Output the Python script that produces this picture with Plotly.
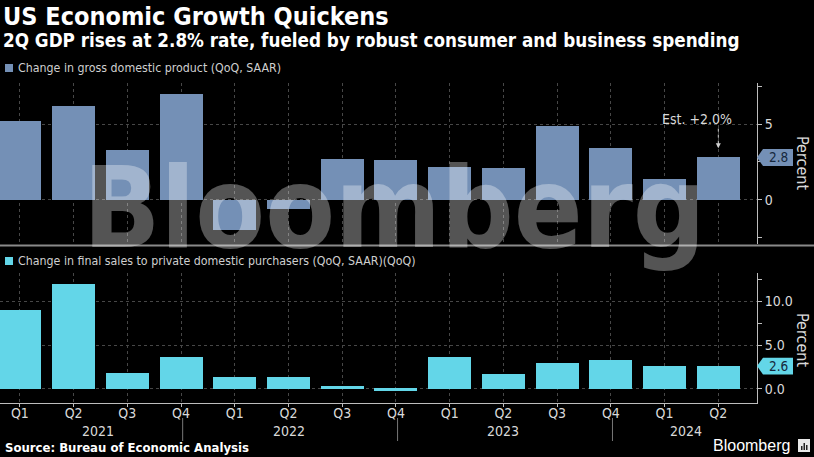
import plotly.graph_objects as go

# ---------------- data ----------------
quarters = ["Q1", "Q2", "Q3", "Q4", "Q1", "Q2", "Q3", "Q4", "Q1", "Q2", "Q3", "Q4", "Q1", "Q2"]
years = ["2021", "2022", "2023", "2024"]
year_pos = [1.45, 5.0, 9.0, 12.4]
year_breaks = [3.03, 7.03, 11.03]
gdp = [5.2, 6.2, 3.3, 7.0, -2.0, -0.6, 2.7, 2.6, 2.2, 2.1, 4.9, 3.4, 1.4, 2.8]
final_sales = [9.0, 11.9, 1.8, 3.6, 1.4, 1.4, 0.3, -0.2, 3.6, 1.7, 3.0, 3.3, 2.6, 2.6]
top_label = "Change in gross domestic product (QoQ, SAAR)"
bot_label = "Change in final sales to private domestic purchasers (QoQ, SAAR)(QoQ)"
est_text = "Est. +2.0%"
est_value = 2.0

x = list(range(len(quarters)))

# ---------------- layout helpers ----------------
PLOT_W = 757
PLOT_TOP = 83
PLOT_BOT = 403
PLOT_H = PLOT_BOT - PLOT_TOP


def px_x(px):
    return px / PLOT_W


def px_y(py):
    return (PLOT_BOT - py) / PLOT_H


BLUE = "#7490b6"
CYAN = "#63d6e8"
TXT = "#d9d9d9"
GRID = "#474747"
AXIS = "#bdbdbd"
NARROW = "Liberation Sans Narrow, DejaVu Sans Condensed, Arial Narrow, sans-serif"

fig = go.Figure()
fig.add_trace(go.Bar(x=x, y=gdp, marker_color=BLUE, marker_line_width=0, width=0.8,
                     xaxis="x", yaxis="y", showlegend=False))
fig.add_trace(go.Bar(x=x, y=final_sales, marker_color=CYAN, marker_line_width=0, width=0.8,
                     xaxis="x2", yaxis="y2", showlegend=False))

xr = [-0.37, 13.72]
top_range = [-2.9, 7.7]
bot_range = [-1.6, 13.2]

fig.update_layout(
    width=814, height=457,
    margin=dict(l=0, r=814 - PLOT_W, t=PLOT_TOP, b=457 - PLOT_BOT),
    paper_bgcolor="black", plot_bgcolor="black",
    font=dict(family=NARROW, color=TXT, size=13),
    xaxis=dict(domain=[0, 1], range=xr, anchor="y", tickvals=x, showticklabels=False,
               showgrid=True, griddash="dot", gridcolor=GRID, gridwidth=1,
               zeroline=False, showline=False, ticks=""),
    yaxis=dict(domain=[px_y(244), 1.0], range=top_range, side="right", anchor="x",
               tickvals=[0, 5], showgrid=True, griddash="dot", gridcolor=GRID,
               zeroline=False, showline=True, linecolor=AXIS, linewidth=1,
               ticks="outside", ticklen=4, tickcolor=AXIS,
               minor=dict(dtick=2.5, ticks="outside", ticklen=4, tickcolor=AXIS, showgrid=False),
               tickfont=dict(size=14, color=TXT, family=NARROW)),
    xaxis2=dict(domain=[0, 1], range=xr, anchor="y2", tickvals=x, ticktext=quarters,
                showgrid=True, griddash="dot", gridcolor=GRID, zeroline=False,
                showline=True, linecolor=AXIS, linewidth=1, ticks="outside", ticklen=3,
                tickcolor=AXIS, ticklabelstandoff=-6,
                tickfont=dict(size=14, color=TXT, family=NARROW)),
    yaxis2=dict(domain=[0, px_y(273)], range=bot_range, side="right", anchor="x2",
                tickvals=[0, 5, 10], tickformat=".1f", showgrid=True, griddash="dot",
                gridcolor=GRID, zeroline=False, showline=True, linecolor=AXIS, linewidth=1,
                ticks="outside", ticklen=4, tickcolor=AXIS,
                minor=dict(dtick=2.5, ticks="outside", ticklen=4, tickcolor=AXIS, showgrid=False),
                tickfont=dict(size=14, color=TXT, family=NARROW)),
    bargap=0,
)

shapes = []
annotations = []

# panel separator line
shapes.append(dict(type="line", xref="paper", yref="paper", x0=0, x1=814 / PLOT_W,
                   y0=px_y(245.5), y1=px_y(245.5), line=dict(color="#8a8a8a", width=2)))

# legend squares
shapes.append(dict(type="rect", xref="paper", yref="paper", x0=px_x(5), x1=px_x(13),
                   y0=px_y(72), y1=px_y(64), fillcolor=BLUE, line_width=0))
shapes.append(dict(type="rect", xref="paper", yref="paper", x0=px_x(5), x1=px_x(13),
                   y0=px_y(265), y1=px_y(257), fillcolor=CYAN, line_width=0))
annotations.append(dict(text=top_label, xref="paper", yref="paper", x=px_x(16), y=px_y(68),
                        xanchor="left", yanchor="middle", showarrow=False,
                        font=dict(size=12.3, color="#cfcfcf")))
annotations.append(dict(text=bot_label, xref="paper", yref="paper", x=px_x(16), y=px_y(261),
                        xanchor="left", yanchor="middle", showarrow=False,
                        font=dict(size=12.3, color="#cfcfcf")))

# year labels and separators
for yl, yp in zip(years, year_pos):
    annotations.append(dict(text=yl, xref="x2", yref="paper", x=yp, y=px_y(431),
                            xanchor="center", yanchor="middle", showarrow=False,
                            font=dict(size=14, color=TXT)))
for b in year_breaks:
    shapes.append(dict(type="line", xref="x2", yref="paper", x0=b, x1=b,
                       y0=px_y(418), y1=px_y(441), line=dict(color="#777", width=1)))


# value tags
def add_tag(val, yref, half_units, color):
    x0, x1, x2 = px_x(PLOT_W), px_x(PLOT_W + 6), px_x(PLOT_W + 36)
    path = (f"M {x0},{val} L {x1},{val + half_units} L {x2},{val + half_units} "
            f"L {x2},{val - half_units} L {x1},{val - half_units} Z")
    shapes.append(dict(type="path", xref="paper", yref=yref, path=path,
                       fillcolor=color, line_width=0))
    annotations.append(dict(text=f"{val:.1f}", xref="paper", yref=yref,
                            x=(x1 + x2) / 2, y=val, xanchor="center", yanchor="middle",
                            showarrow=False, font=dict(size=13.5, color="#16283d")))


add_tag(gdp[-1], "y", 8.5 / 15.2, BLUE)
add_tag(final_sales[-1], "y2", 8.5 / 8.9, CYAN)

# Percent titles
annotations.append(dict(text="Percent", xref="paper", yref="paper", x=px_x(803), y=px_y(163),
                        textangle=90, showarrow=False, xanchor="center", yanchor="middle",
                        font=dict(size=16, color=TXT)))
annotations.append(dict(text="Percent", xref="paper", yref="paper", x=px_x(803), y=px_y(340),
                        textangle=90, showarrow=False, xanchor="center", yanchor="middle",
                        font=dict(size=16, color=TXT)))

# estimate annotation
annotations.append(dict(text=est_text, xref="x", yref="y", x=12.6, y=5.33,
                        xanchor="center", yanchor="middle", showarrow=False,
                        font=dict(size=14, color=TXT)))
shapes.append(dict(type="line", xref="x", yref="y", x0=13, x1=13, y0=4.7, y1=3.55,
                   line=dict(color="#cfcfcf", width=1, dash="dot")))
annotations.append(dict(text="", xref="x", yref="y", x=13, y=3.4, ax=0, ay=-7,
                        showarrow=True, arrowhead=2, arrowsize=1, arrowwidth=1,
                        arrowcolor="#cfcfcf"))

# titles
annotations.append(dict(text="<b>US Economic Growth Quickens</b>", xref="paper", yref="paper",
                        x=px_x(1), y=px_y(17), xanchor="left", yanchor="middle", showarrow=False,
                        font=dict(size=25, color="white")))
annotations.append(dict(text="<b>2Q GDP rises at 2.8% rate, fueled by robust consumer and business spending</b>",
                        xref="paper", yref="paper", x=px_x(1), y=px_y(40), xanchor="left",
                        yanchor="middle", showarrow=False, font=dict(size=18.7, color="white")))

# footer
annotations.append(dict(text="<b>Source: Bureau of Economic Analysis</b>", xref="paper", yref="paper",
                        x=px_x(3), y=px_y(447), xanchor="left", yanchor="middle", showarrow=False,
                        font=dict(size=13, color="white")))
annotations.append(dict(text="Bloomberg", xref="paper", yref="paper", x=px_x(792), y=px_y(445),
                        xanchor="right", yanchor="middle", showarrow=False,
                        font=dict(size=16, color="white", family="Liberation Sans, Arial, sans-serif")))
shapes.append(dict(type="rect", xref="paper", yref="paper", x0=px_x(798), x1=px_x(810),
                   y0=px_y(452), y1=px_y(439), fillcolor="#e8e8e8", line_width=0))
for bx, bh in [(801, 4), (803.5, 7), (806, 5)]:
    shapes.append(dict(type="rect", xref="paper", yref="paper", x0=px_x(bx), x1=px_x(bx + 1.5),
                       y0=px_y(450), y1=px_y(450 - bh), fillcolor="#222", line_width=0))

# watermark
annotations.append(dict(text="<b>Bloomberg</b>", xref="paper", yref="paper", x=px_x(394), y=px_y(208),
                        xanchor="center", yanchor="middle", showarrow=False,
                        font=dict(size=113, color="rgba(255,255,255,0.33)",
                                  family="DejaVu Sans Condensed, DejaVu Sans, sans-serif")))

fig.update_layout(shapes=shapes, annotations=annotations)
fig.write_html("out.html")
